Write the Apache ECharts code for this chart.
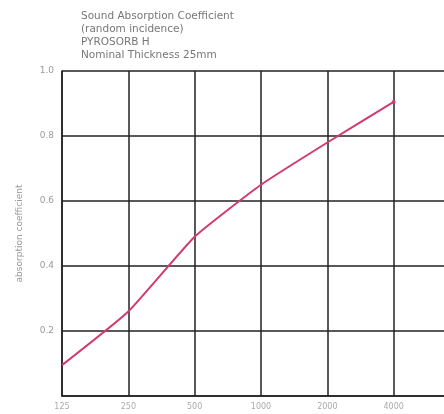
<!DOCTYPE html>
<html><head><meta charset="utf-8">
<script src="https://cdn.jsdelivr.net/npm/echarts@6/dist/echarts.min.js"></script>
<style>html,body{margin:0;padding:0;background:#fff}#c{width:444px;height:414px}</style>
</head><body><div id="c"></div>
<script>
const categories = ['125', '250', '500', '1000', '2000', '4000'];
const absorption = [0.095, 0.26, 0.49, 0.65, 0.78, 0.905];
const yTicks = [0.2, 0.4, 0.6, 0.8, 1.0];
const titleLines = ['Sound Absorption Coefficient', '(random incidence)', 'PYROSORB H', 'Nominal Thickness 25mm'];

const chart = echarts.init(document.getElementById('c'));
chart.setOption({
  animation: false,
  title: {
    text: titleLines.join('\n'),
    left: 76, top: 5,
    textStyle: { fontFamily: 'DejaVu Sans', fontSize: 10.5, fontWeight: 'normal', color: '#777', lineHeight: 13 }
  },
  grid: { left: 62, top: 71, width: 398, height: 325, outerBoundsMode: 'none', containLabel: false },
  xAxis: {
    type: 'value', min: 0, max: 6, interval: 1,
    axisLine: { show: true, lineStyle: { color: '#222', width: 1.5 } },
    axisTick: { show: false },
    splitLine: { show: true, lineStyle: { color: '#222', width: 1.5 } },
    axisLabel: {
      formatter: v => (v >= 0 && v < categories.length) ? categories[v] : '',
      color: '#aaa', fontSize: 8, margin: 7, fontFamily: 'DejaVu Sans'
    }
  },
  yAxis: {
    type: 'value', min: 0, max: 1, interval: 0.2,
    name: 'absorption coefficient', nameLocation: 'middle', nameGap: 38, nameRotate: 90,
    nameTextStyle: { color: '#999', fontSize: 9, fontFamily: 'DejaVu Sans' },
    axisLine: { show: true, lineStyle: { color: '#222', width: 1.5 } },
    axisTick: { show: false },
    splitLine: { show: true, lineStyle: { color: '#222', width: 1.5 } },
    axisLabel: {
      formatter: v => yTicks.some(t => Math.abs(t - v) < 1e-6) ? v.toFixed(1) : '',
      color: '#999', fontSize: 9, margin: 8, fontFamily: 'DejaVu Sans'
    }
  },
  series: [{
    type: 'line', smooth: 0.15,
    data: absorption.map((v, i) => [i, v]),
    lineStyle: { color: '#d33a6e', width: 2 },
    itemStyle: { color: '#d33a6e' },
    symbol: 'circle', symbolSize: (v, p) => p.dataIndex === absorption.length - 1 ? 4 : 0
  }]
});
</script></body></html>
